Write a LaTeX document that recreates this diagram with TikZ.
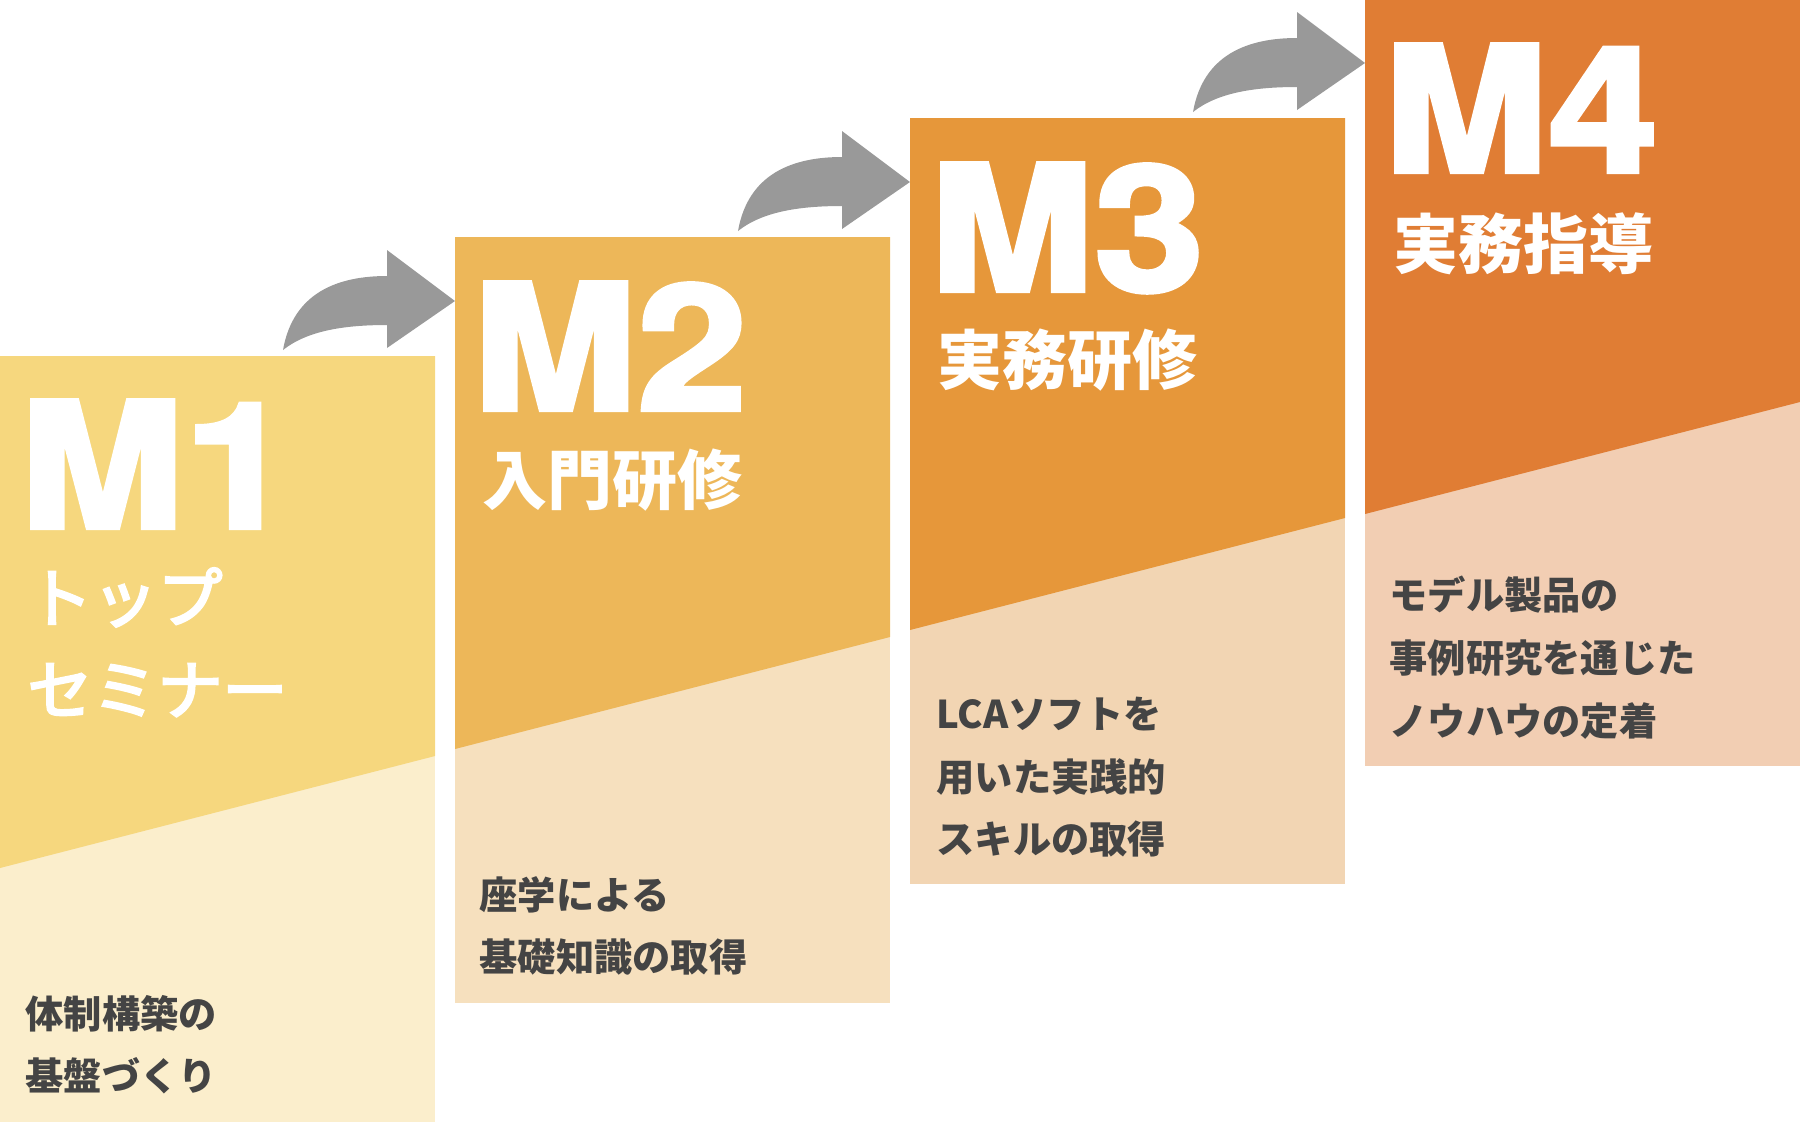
\documentclass[tikz,border=0pt]{standalone}
\usepackage{fontspec}
\setmainfont{TeX Gyre Heros}
\newfontfamily\mfont{TeX Gyre Heros}[BoldFeatures={FakeBold=2.5}]
\newfontfamily\jpfont{Noto Sans CJK JP}
\newfontfamily\jpmed{Noto Sans CJK JP}[UprightFeatures={FakeBold=3.5}]
\usepackage{tikz}

\definecolor{stepA}{HTML}{F6D77E}
\definecolor{stepAlt}{HTML}{FBEECC}
\definecolor{stepB}{HTML}{EDB759}
\definecolor{stepBlt}{HTML}{F6E0BE}
\definecolor{stepC}{HTML}{E6973A}
\definecolor{stepClt}{HTML}{F2D5B3}
\definecolor{stepD}{HTML}{E07D34}
\definecolor{stepDlt}{HTML}{F2CEB3}
\definecolor{arrowgray}{HTML}{999999}
\definecolor{txtgray}{HTML}{444444}

\begin{document}
\begin{tikzpicture}[x=0.4pt,y=-0.4pt,
  bigM/.style={anchor=base west,inner sep=0,text=white,font=\mfont\fontsize{70}{70}\selectfont\bfseries},
  titleJp/.style={anchor=base west,inner sep=0,text=white,font=\jpfont\fontsize{26}{26}\selectfont\bfseries},
  descJp/.style={anchor=base west,inner sep=0,text=txtgray,font=\jpfont\fontsize{15.3}{15.3}\selectfont\bfseries},
  upArrow/.style={fill=arrowgray}]
\useasboundingbox (0,0) rectangle (1800,1122);

%Shape: Rectangle M1
\fill[stepAlt] (0,356) rectangle (435,1122);
\fill[stepA] (0,356) -- (435,356) -- (435,756) -- (0,868) -- cycle;
%Shape: Rectangle M2
\fill[stepBlt] (455,237) rectangle (890,1003);
\fill[stepB] (455,237) -- (890,237) -- (890,637) -- (455,749) -- cycle;
%Shape: Rectangle M3
\fill[stepClt] (910,118) rectangle (1345,884);
\fill[stepC] (910,118) -- (1345,118) -- (1345,518) -- (910,630) -- cycle;
%Shape: Rectangle M4
\fill[stepDlt] (1365,0) rectangle (1800,766);
\fill[stepD] (1365,0) -- (1800,0) -- (1800,402) -- (1365,514) -- cycle;

%arrow tips on the left edge of each box
\coordinate (tipB) at (455,301);
\coordinate (tipC) at (910,182);
\coordinate (tipD) at (1365,63);

%Curve Arrows
\foreach \t in {tipB,tipC,tipD}
  \fill[upArrow, shift={(\t)}] (-172,49) .. controls (-162,-8) and (-118,-25) .. (-68,-25) -- (-68,-51) -- (0,0) -- (-68,47) -- (-68,24) .. controls (-112,24) and (-148,30) .. (-172,49) -- cycle;

%Text M1
\node[bigM] (m1) at (19,528) {\scalebox{1.13}[1]{M1}};
\node[titleJp,font=\jpmed\fontsize{26}{26}\selectfont] (m1t1) at (27,622) {トップ};
\node[titleJp,font=\jpmed\fontsize{26}{26}\selectfont] (m1t2) at (27,714) {セミナー};
\node[descJp] (m1d1) at (25,1028) {体制構築の};
\node[descJp] (m1d2) at (25,1090) {基盤づくり};

%Text M2
\node[bigM] (m2) at (472,410) {\scalebox{1.13}[1]{M2}};
\node[titleJp] (m2t) at (482,504) {入門研修};
\node[descJp] (m2d1) at (479,909) {座学による};
\node[descJp] (m2d2) at (479,971) {基礎知識の取得};

%Text M3
\node[bigM] (m3) at (929,291) {\scalebox{1.13}[1]{M3}};
\node[titleJp] (m3t) at (937,384) {実務研修};
\node[descJp] (m3d1) at (936,728) {LCAソフトを};
\node[descJp] (m3d2) at (936,791) {用いた実践的};
\node[descJp] (m3d3) at (936,853) {スキルの取得};

%Text M4
\node[bigM] (m4) at (1383,172) {\scalebox{1.13}[1]{M4}};
\node[titleJp] (m4t) at (1393,268) {実務指導};
\node[descJp] (m4d1) at (1389,609) {モデル製品の};
\node[descJp] (m4d2) at (1389,672) {事例研究を通じた};
\node[descJp] (m4d3) at (1389,735) {ノウハウの定着};

\end{tikzpicture}
\end{document}
